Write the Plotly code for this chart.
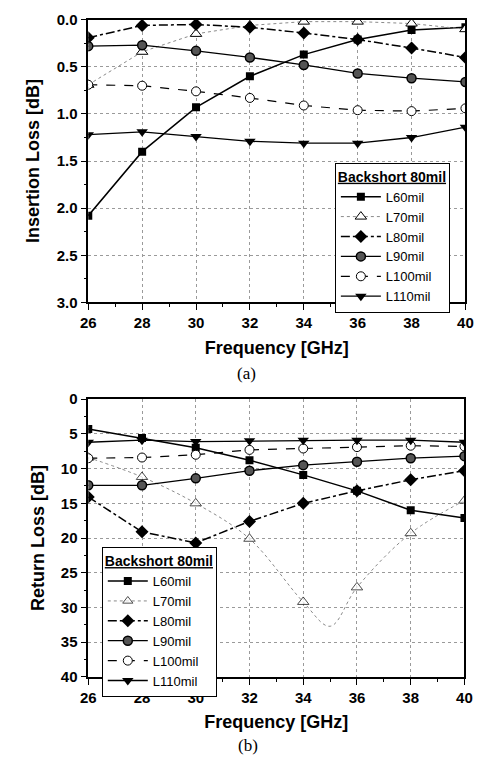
import plotly.graph_objects as go
from plotly.subplots import make_subplots

freq = [26, 28, 30, 32, 34, 36, 38, 40]
series_names = ["L60mil", "L70mil", "L80mil", "L90mil", "L100mil", "L110mil"]

# (a) Insertion loss [dB]
il_L60 = [2.08, 1.40, 0.93, 0.60, 0.37, 0.21, 0.11, 0.08]
il_L70 = [0.69, 0.34, 0.15, 0.06, 0.02, 0.02, 0.04, 0.10]
il_L80 = [0.19, 0.06, 0.05, 0.08, 0.14, 0.21, 0.30, 0.40]
il_L90 = [0.28, 0.27, 0.33, 0.40, 0.48, 0.57, 0.62, 0.66]
il_L100 = [0.69, 0.70, 0.76, 0.83, 0.91, 0.96, 0.97, 0.94]
il_L110 = [1.22, 1.19, 1.24, 1.29, 1.31, 1.31, 1.25, 1.14]

# (b) Return loss [dB]
rl_L60 = [4.3, 5.6, 7.0, 8.8, 10.9, 13.2, 16.0, 17.1]
rl_L70_freq = [26, 28, 30, 32, 34, 35, 36, 38, 40]
rl_L70 = [8.4, 11.2, 15.0, 20.1, 29.2, 32.7, 27.1, 19.3, 14.6]
rl_L80 = [14.1, 19.1, 20.7, 17.6, 15.0, 13.2, 11.6, 10.3]
rl_L90 = [12.4, 12.4, 11.4, 10.3, 9.5, 9.0, 8.5, 8.2]
rl_L100 = [8.5, 8.4, 8.0, 7.3, 7.1, 6.9, 6.7, 6.8]
rl_L110 = [6.2, 5.9, 6.1, 6.0, 5.9, 5.9, 5.9, 6.2]

styles = {
    "L60mil": dict(line=dict(color="black", width=1.5, dash="solid"),
                   marker=dict(symbol="square", size=8, color="black")),
    "L70mil": dict(line=dict(color="#8a8a8a", width=1, dash="dot"),
                   marker=dict(symbol="triangle-up", size=10, color="white",
                               line=dict(color="black", width=1))),
    "L80mil": dict(line=dict(color="black", width=1.5, dash="dashdot"),
                   marker=dict(symbol="diamond", size=10, color="black")),
    "L90mil": dict(line=dict(color="black", width=1.3, dash="solid"),
                   marker=dict(symbol="circle", size=9, color="#555555",
                               line=dict(color="black", width=1.5))),
    "L100mil": dict(line=dict(color="black", width=1.2, dash="dash"),
                    marker=dict(symbol="circle", size=9, color="white",
                                line=dict(color="black", width=1))),
    "L110mil": dict(line=dict(color="black", width=1.3, dash="solid"),
                    marker=dict(symbol="triangle-down", size=10, color="black")),
}

fig = make_subplots(rows=2, cols=1)

top = [il_L60, il_L70, il_L80, il_L90, il_L100, il_L110]
for name, ys in zip(series_names, top):
    fig.add_trace(go.Scatter(x=freq, y=ys, name=name, mode="lines+markers",
                             legend="legend", **styles[name]), row=1, col=1)

bottom = [(freq, rl_L60), (rl_L70_freq, rl_L70), (freq, rl_L80),
          (freq, rl_L90), (freq, rl_L100), (freq, rl_L110)]
for name, (xs, ys) in zip(series_names, bottom):
    st = dict(styles[name])
    kw = {}
    if name == "L70mil":
        line = dict(st["line"])
        line["shape"] = "spline"
        st["line"] = line
        kw["marker"] = dict(st["marker"])
        kw["marker"]["size"] = [10 if x % 2 == 0 else 0 for x in xs]
        st.pop("marker")
    fig.add_trace(go.Scatter(x=xs, y=ys, name=name, mode="lines+markers",
                             legend="legend2", **st, **kw), row=2, col=1)

tickfont = dict(family="Liberation Sans, Arial", size=15, color="black", weight="bold")
titlefont = dict(family="Liberation Sans, Arial", size=18, color="black", weight="bold")

common_axis = dict(showline=True, linecolor="black", linewidth=1.5, mirror=True,
                   ticks="outside", ticklen=6, tickwidth=1.2, tickcolor="black",
                   showgrid=True, gridcolor="#9a9a9a", griddash="dot", gridwidth=1,
                   zeroline=False, tickfont=tickfont)

W, H = 486, 771
fig.update_xaxes(range=[26, 40], dtick=2, tick0=26,
                 minor=dict(dtick=1, ticks="outside", ticklen=3, tickcolor="black", showgrid=False),
                 title=dict(text="Frequency [GHz]", font=titlefont, standoff=11),
                 **common_axis)
fig.update_xaxes(domain=[83 / W, 473 / W], row=1, col=1)
fig.update_xaxes(domain=[83 / W, 472 / W], row=2, col=1)

fig.update_yaxes(range=[3.0, 0.0], dtick=0.5, tickformat=".1f",
                 minor=dict(dtick=0.25, ticks="outside", ticklen=3, tickcolor="black", showgrid=False),
                 title=dict(text="Insertion Loss [dB]", font=titlefont, standoff=12),
                 domain=[(H - 300) / H, (H - 11) / H], row=1, col=1, **common_axis)
fig.update_yaxes(range=[40, 0], dtick=5,
                 minor=dict(dtick=2.5, ticks="outside", ticklen=3, tickcolor="black", showgrid=False),
                 title=dict(text="Return Loss [dB]", font=titlefont, standoff=12),
                 domain=[(H - 683) / H, (H - 399) / H], row=2, col=1, **common_axis)

legend_common = dict(bgcolor="white", bordercolor="black", borderwidth=1,
                     font=dict(family="Liberation Sans, Arial", size=13, color="black"),
                     itemwidth=40, xanchor="left", yanchor="top",
                     title=dict(text="<b><u>Backshort 80mil</u></b>",
                                font=dict(family="Liberation Sans, Arial", size=14, color="black")))

fig.update_layout(
    width=W, height=H,
    margin=dict(l=0, r=0, t=0, b=0),
    paper_bgcolor="white", plot_bgcolor="white",
    legend=dict(x=338 / W, y=(H - 157) / H, **legend_common),
    legend2=dict(x=97 / W, y=(H - 550) / H, **legend_common),
    annotations=[
        dict(text="(a)", x=247 / W, y=(H - 373) / H, xref="paper", yref="paper",
             xanchor="center", yanchor="middle", showarrow=False,
             font=dict(family="Liberation Serif, Times New Roman", size=17, color="black")),
        dict(text="(b)", x=248 / W, y=(H - 753) / H, xref="paper", yref="paper",
             xanchor="center", yanchor="middle", showarrow=False,
             font=dict(family="Liberation Serif, Times New Roman", size=17, color="black")),
    ],
)

fig.write_html("out.html")
